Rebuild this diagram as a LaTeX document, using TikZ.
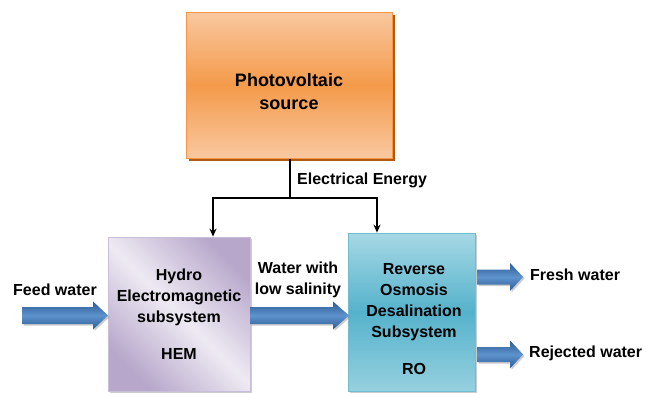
\documentclass[tikz,border=0pt]{standalone}
\usepackage{fontspec}
\setmainfont{Liberation Sans}
\usetikzlibrary{arrows.meta,shadows,calc}
\definecolor{pvborder}{HTML}{F79646}
\definecolor{pvlight}{HTML}{F9C8A0}
\definecolor{pvmid}{HTML}{F49A4A}
\definecolor{pvshadow}{HTML}{B05A10}
\definecolor{hemlight}{HTML}{EEEAF3}
\definecolor{hemdark}{HTML}{B7A7CB}
\definecolor{hemborder}{HTML}{C9BEDA}
\definecolor{rolight}{HTML}{A6D8E5}
\definecolor{romid}{HTML}{55B2CB}
\definecolor{roborder}{HTML}{4BACC6}
\definecolor{arrdark}{HTML}{2C5B93}
\definecolor{arrlight}{HTML}{5E93CE}
\tikzset{
  txt/.style={font=\bfseries\fontsize{16}{21}\selectfont, text=black, align=center, inner sep=0pt},
  pvbox/.style={draw=pvborder, line width=1pt, top color=pvlight, bottom color=pvlight, middle color=pvmid,
     drop shadow={fill=pvshadow, opacity=1, shadow xshift=2.5pt, shadow yshift=-3pt}},
  hembox/.style={draw=hemborder, line width=0.8pt, shading=axis, top color=hemdark, bottom color=hemdark, middle color=hemlight, shading angle=-45,
     drop shadow={fill=black!40, opacity=0.5, shadow xshift=2pt, shadow yshift=-2pt}},
  robox/.style={draw=roborder!80!white, line width=0.8pt, top color=rolight, bottom color=rolight!80!romid, middle color=romid,
     drop shadow={fill=black!40, opacity=0.5, shadow xshift=2pt, shadow yshift=-2pt}},
  blockarr/.style={top color=arrdark, bottom color=arrdark, middle color=arrlight, draw=none,
     drop shadow={fill=black!50, opacity=0.4, shadow xshift=1.5pt, shadow yshift=-1.5pt}},
  feed/.style={line width=1.8pt, -{Stealth[length=8pt,width=7pt]}},
}
\newcommand{\blkarrow}[5]{% x1, xhead, x2, yc, shaft half
  \path[blockarr] (#1,#4-#5) -- (#2,#4-#5) -- (#2,#4-14) -- (#3,#4) -- (#2,#4+14) -- (#2,#4+#5) -- (#1,#4+#5) -- cycle;}
\begin{document}
\begin{tikzpicture}[x=1pt,y=-1pt]
\useasboundingbox (0,0) rectangle (646,392);
% boxes
\node[pvbox, minimum width=206pt, minimum height=146pt, inner sep=0pt] (pv) at (289,85) {};
\node[txt, font=\bfseries\fontsize{18}{23}\selectfont] (pvt) at (289,92) {Photovoltaic\\source};
\node[hembox, minimum width=142pt, minimum height=154pt, inner sep=0pt] (hem) at (179,314) {};
\node[txt] (hemt) at (179,314) {Hydro\\Electromagnetic\\subsystem\\[16pt]HEM};
\node[robox, minimum width=127pt, minimum height=158pt, inner sep=0pt] (ro) at (411.5,312) {};
\node[txt] (rot) at (414,319) {Reverse\\Osmosis\\Desalination\\Subsystem\\[16pt]RO};
% electrical connectors
\coordinate (split) at (290,198);
\coordinate (lft) at (213,198);
\coordinate (rgt) at (377,198);
\draw[line width=1.8pt] (pv.south -| split) -- (split);
\draw[feed] (split) -- (lft) -- (lft |- hem.north);
\draw[feed] (split) -- (rgt) -- (rgt |- ro.north);
\node[txt, anchor=west] (ee) at (297,180) {Electrical Energy};
% block arrows
\blkarrow{22}{93}{108}{315.5}{8.5}
\blkarrow{250}{333}{349}{315.5}{8.5}
\blkarrow{477}{510}{523}{277}{7.5}
\blkarrow{477}{510}{523}{354.5}{7.5}
% labels
\node[txt] (fw) at (55,290) {Feed water};
\node[txt] (lw) at (298,280) {Water with\\low salinity};
\node[txt, anchor=west] (fr) at (530,275) {Fresh water};
\node[txt, anchor=west] (rj) at (529,353) {Rejected water};
\end{tikzpicture}
\end{document}
